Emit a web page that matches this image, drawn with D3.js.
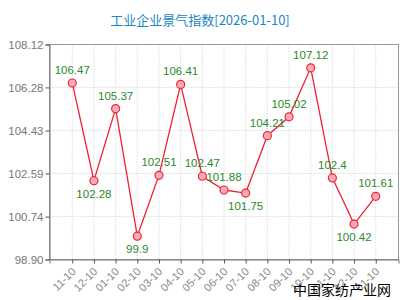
<!DOCTYPE html>
<html><head><meta charset="utf-8">
<script src="https://cdn.jsdelivr.net/npm/d3@7"></script>
<style>
html,body{margin:0;padding:0;background:#fff;}
svg{display:block;}
</style></head>
<body>
<svg id="c" width="400" height="300"></svg>
<script>
const title = "工业企业景气指数[2026-01-10]";
const watermark = "中国家纺产业网";
const categories = ["11-10","12-10","01-10","02-10","03-10","04-10","05-10","06-10","07-10","08-10","09-10","10-10","11-10","12-10","01-10"];
const values = [106.47,102.28,105.37,99.9,102.51,106.41,102.47,101.88,101.75,104.21,105.02,107.12,102.4,100.42,101.61];
const yTicks = [98.90,100.74,102.59,104.43,106.28,108.12];

const svg = d3.select("#c");
const L = 49.5, R = 398.5, T = 44.5, B = 259.5;
const idx = categories.map((c,i)=>i);
const x = d3.scalePoint().domain(idx).range([L, R]).padding(1.05);
const y = d3.scaleLinear().domain([98.90,108.12]).range([B, T]);

// title
svg.append("text").attr("x",200).attr("y",25).attr("text-anchor","middle")
  .attr("font-family","'Noto Sans CJK SC', sans-serif").attr("font-size",13)
  .attr("fill","#1a86c4").text(title);

// grid
const g = svg.append("g");
g.selectAll("line.hg").data(yTicks.slice(1,-1)).enter().append("line")
  .attr("x1",L).attr("x2",R).attr("y1",d=>y(d)).attr("y2",d=>y(d))
  .attr("stroke","#c8c8c8").attr("stroke-dasharray","1,2");
g.selectAll("line.vg").data(idx).enter().append("line")
  .attr("x1",d=>x(d)).attr("x2",d=>x(d)).attr("y1",T).attr("y2",B)
  .attr("stroke","#c8c8c8").attr("stroke-dasharray","1,2");

// frame
svg.append("rect").attr("x",L).attr("y",T).attr("width",R-L).attr("height",B-T)
  .attr("fill","none").attr("stroke","#999");

// y axis
const ya = svg.append("g").attr("transform",`translate(${L},0)`)
  .call(d3.axisLeft(y).tickValues(yTicks).tickFormat(d3.format(".2f")).tickSize(4).tickPadding(2));
ya.select(".domain").attr("stroke","#777");
ya.selectAll(".tick line").attr("stroke","#555");
ya.selectAll("text").attr("font-family","'Liberation Sans', Arial, sans-serif").attr("font-size",11.5).attr("fill","#777");

// x axis
const xa = svg.append("g").attr("transform",`translate(0,${B})`)
  .call(d3.axisBottom(x).tickFormat(i=>categories[i]).tickSize(4).tickPadding(3));
xa.select(".domain").attr("stroke","#777");
xa.selectAll(".tick line").attr("stroke","#555");
xa.selectAll("text").attr("font-family","'Liberation Sans', Arial, sans-serif").attr("font-size",11)
  .attr("fill","#888").attr("text-anchor","end")
  .attr("x",0).attr("y",0).attr("dy","0.35em")
  .attr("transform","translate(1,10) rotate(-45)");

// line
const line = d3.line().x((d,i)=>x(i)).y(d=>y(d));
svg.append("path").datum(values).attr("d",line).attr("fill","none")
  .attr("stroke","#ee2233").attr("stroke-width",1.3);

svg.selectAll("circle.pt").data(values).enter().append("circle")
  .attr("cx",(d,i)=>x(i)).attr("cy",d=>y(d)).attr("r",4)
  .attr("fill","#ffaab4").attr("stroke","#e8283a").attr("stroke-width",1.2);

// labels
const isMin = (i)=> i>0 && i<values.length-1 && values[i]<values[i-1] && values[i]<values[i+1];
svg.selectAll("text.lbl").data(values).enter().append("text")
  .attr("x",(d,i)=>x(i)).attr("y",(d,i)=> isMin(i) ? y(d)+17 : y(d)-9)
  .attr("text-anchor","middle").attr("font-family","'Liberation Sans', Arial, sans-serif")
  .attr("font-size",11.5).attr("fill","#2a8a2a").text(d=>d);

// watermark
svg.append("text").attr("x",391).attr("y",295).attr("text-anchor","end")
  .attr("font-family","'Noto Sans CJK SC', sans-serif").attr("font-size",14)
  .attr("fill","#000").text(watermark);
</script>
</body></html>
